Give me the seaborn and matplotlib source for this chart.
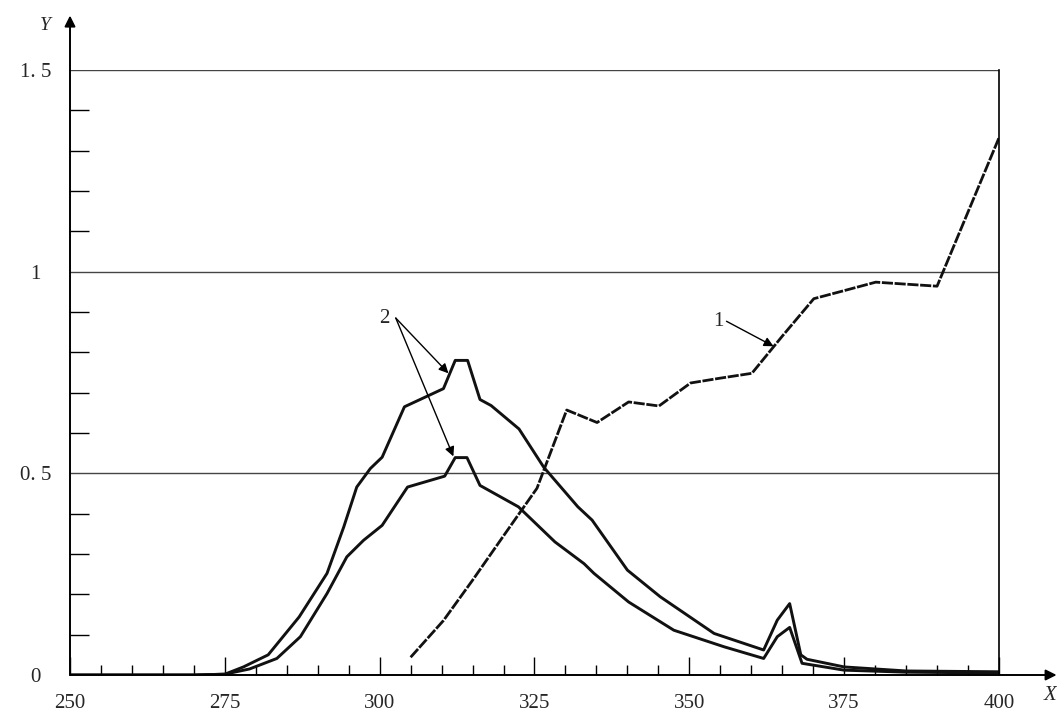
import numpy as np
import pandas as pd
import matplotlib
matplotlib.use('Agg')
import matplotlib.pyplot as plt
import seaborn as sns

# curve 1 (dashed)
x_1 = [305, 310.3, 315, 320, 325.4, 330.2, 335.1, 340.2, 345.1, 350.2, 355, 360.1, 365, 370.1, 375, 380.1, 385, 390.0, 400]
y_1 = [0.044, 0.135, 0.235, 0.345, 0.463, 0.657, 0.626, 0.677, 0.667, 0.724, 0.736, 0.748, 0.84, 0.933, 0.953, 0.974, 0.969, 0.964, 1.332]

# curves 2 (solid, upper and lower)
x_up = [250, 260, 270, 275, 278, 282, 287, 291.5, 294.2, 296.3, 298.5, 300.4, 304, 310.3, 312.2, 314.2, 316.2,
        318, 322.5, 326.5, 332, 334.3, 340, 345.3, 354, 362, 364.2, 366.2, 368, 369, 375, 385, 400]
y_up = [0, 0, 0, 0.002, 0.02, 0.05, 0.144, 0.252, 0.367, 0.466, 0.512, 0.54, 0.665, 0.71, 0.78, 0.78, 0.683,
        0.668, 0.61, 0.515, 0.417, 0.384, 0.26, 0.194, 0.103, 0.062, 0.136, 0.177, 0.05, 0.039, 0.02, 0.01, 0.008]

x_lo = [250, 260, 270, 275, 279, 283.4, 287.2, 291.5, 294.7, 297.4, 300.4, 304.5, 310.5, 312.2, 314.1, 316.2,
        322.4, 328.3, 333, 334.6, 340.2, 347.5, 355.6, 362, 364.2, 366.2, 368.2, 375, 385, 400]
y_lo = [0, 0, 0, 0.002, 0.015, 0.041, 0.095, 0.202, 0.293, 0.334, 0.371, 0.466, 0.493, 0.539, 0.539, 0.47,
        0.417, 0.33, 0.276, 0.252, 0.181, 0.111, 0.07, 0.041, 0.095, 0.118, 0.029, 0.012, 0.007, 0.005]

x_major = [250, 275, 300, 325, 350, 375, 400]
y_major = [0, 0.5, 1, 1.5]
y_labels = ['0', '0. 5', '1', '1. 5']

sns.set_style('white')
plt.rcParams['font.family'] = ['Liberation Serif', 'DejaVu Serif']

fig = plt.figure(figsize=(10.57, 7.12), dpi=100)
ax = fig.add_axes([70 / 1057, 37 / 712, 929 / 1057, 605 / 712])

sns.lineplot(x=x_up, y=y_up, color='#111111', lw=2.1, ax=ax, sort=False)
sns.lineplot(x=x_lo, y=y_lo, color='#111111', lw=2.1, ax=ax, sort=False)
sns.lineplot(x=x_1, y=y_1, color='#111111', lw=2.0, ax=ax, sort=False, linestyle=(0, (4, 0.6)))

ax.set_xlim(250, 400)
ax.set_ylim(0, 1.5)

# horizontal reference lines
for yv in [0.5, 1.0, 1.5]:
    ax.axhline(yv, color='#444444', lw=1.0, zorder=0)

for s in ['top', 'left', 'bottom']:
    ax.spines[s].set_visible(False)
ax.spines['right'].set_color('black')
ax.spines['right'].set_linewidth(1.2)

# axes with arrows
ax.annotate('', xy=(409.3, 0), xytext=(250, 0), xycoords='data',
            arrowprops=dict(arrowstyle='-|>', color='black', lw=1.4, mutation_scale=16,
                            shrinkA=0, shrinkB=0), annotation_clip=False)
ax.annotate('', xy=(250, 1.635), xytext=(250, 0), xycoords='data',
            arrowprops=dict(arrowstyle='-|>', color='black', lw=1.4, mutation_scale=16,
                            shrinkA=0, shrinkB=0), annotation_clip=False)
ax.text(408.2, -0.05, 'X', style='italic', fontsize=15, ha='center', va='center')
ax.text(246.0, 1.61, 'Y', style='italic', fontsize=14, ha='center', va='center')

# ticks
ax.set_xticks(x_major)
ax.set_xticklabels([str(v) for v in x_major])
ax.set_xticks(np.arange(250, 401, 5), minor=True)
ax.set_yticks(y_major)
ax.set_yticklabels(y_labels)
ax.set_yticks(np.arange(0, 1.51, 0.1), minor=True)
ax.tick_params(axis='x', which='major', direction='in', length=13, width=1, color='black',
               labelsize=15, pad=14, bottom=True)
ax.tick_params(axis='x', which='minor', direction='in', length=7, width=1, color='black', bottom=True)
ax.tick_params(axis='y', which='major', length=0, labelsize=15, pad=25, left=True)
ax.tick_params(axis='y', which='minor', direction='in', length=14, width=1, color='black', left=True)
for lab in ax.get_yticklabels():
    lab.set_horizontalalignment('center')

# annotations
arrow_kw = dict(arrowstyle='-|>', color='black', lw=1.0, mutation_scale=14, shrinkA=0, shrinkB=0)
ax.text(300.7, 0.885, '2', fontsize=15, ha='center', va='center')
ax.annotate('', xy=(311.1, 0.748), xytext=(302.6, 0.885), arrowprops=arrow_kw)
ax.annotate('', xy=(311.9, 0.542), xytext=(302.6, 0.885), arrowprops=arrow_kw)
ax.text(354.7, 0.877, '1', fontsize=15, ha='center', va='center')
ax.annotate('', xy=(363.6, 0.815), xytext=(356.0, 0.877), arrowprops=arrow_kw)

fig.savefig('out.png', dpi=100)
